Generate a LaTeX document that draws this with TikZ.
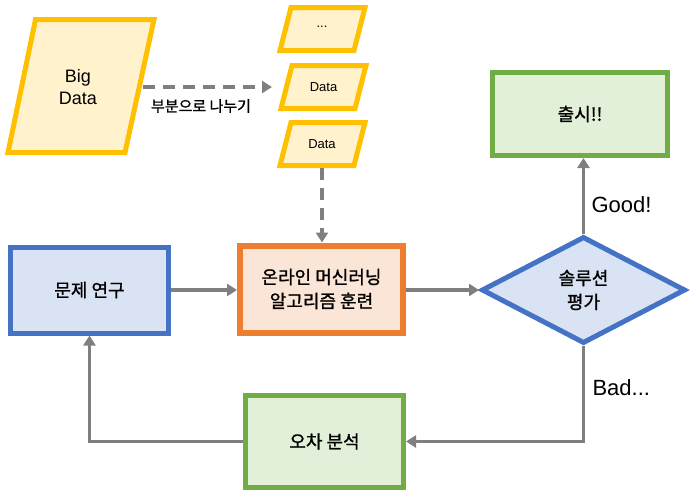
\documentclass[tikz,border=0pt]{standalone}
\usepackage{fontspec}
\setmainfont{Liberation Sans}
\newfontfamily\kr[FakeBold=1.2]{Noto Sans CJK KR}
\usetikzlibrary{arrows.meta,shapes.geometric}
\definecolor{ybord}{HTML}{FFC000}
\definecolor{yfill}{HTML}{FFF2CC}
\definecolor{bbord}{HTML}{4472C4}
\definecolor{bfill}{HTML}{DAE3F3}
\definecolor{obord}{HTML}{ED7D31}
\definecolor{ofill}{HTML}{FBE5D6}
\definecolor{gbord}{HTML}{70AD47}
\definecolor{gfill}{HTML}{E2F0D9}
\definecolor{arrgray}{HTML}{7F7F7F}
\tikzset{
  krtext/.style={font=\kr\fontsize{18}{24}\selectfont, align=center, text=black},
  boxnode/.style={krtext, draw, line width=5pt, rectangle, inner sep=0pt},
  databox/.style={draw=ybord, fill=yfill, line width=5pt, line join=miter},
  arr/.style={draw=arrgray, line width=3.5pt, -{Triangle[length=10pt,width=12pt]}},
  dasharr/.style={arr, dash pattern=on 12pt off 8pt},
  lbl/.style={font=\fontsize{22}{26}\selectfont, text=black, anchor=west}
}
\begin{document}
\begin{tikzpicture}[x=1pt,y=-1pt]
\useasboundingbox (0,0) rectangle (697,501);
% Big Data parallelogram
\draw[databox] (35.5,19.5) -- (154,19.5) -- (125,152.5) -- (8,152.5) -- cycle;
\node[font=\fontsize{18}{22}\selectfont, align=center, text=black] (bigdata) at (78,87) {Big\\Data};
\coordinate (bdright) at (143,87);
% small data boxes
\draw[databox] (291,7.5) -- (365,7.5) -- (354,50.5) -- (280,50.5) -- cycle;
\node[font=\fontsize{13}{16}\selectfont, text=black] (dots) at (322,27) {...};
\draw[databox] (292,65.5) -- (366,65.5) -- (355,108.5) -- (281,108.5) -- cycle;
\node[font=\fontsize{13}{16}\selectfont, text=black] (data1) at (323.5,87) {Data};
\draw[databox] (291,122.5) -- (365,122.5) -- (354,165.5) -- (280,165.5) -- cycle;
\node[font=\fontsize{13}{16}\selectfont, text=black] (data2) at (322,144) {Data};
\coordinate (d2bottom) at (322,168);
\coordinate (splitend) at (272,87);
\node[krtext, font=\kr\fontsize{15}{17}\selectfont] (splitlbl) at (201,106) {부분으로 나누기};
% main boxes
\node[boxnode, draw=bbord, fill=bfill, minimum width=158pt, minimum height=86pt] (study) at (89.5,290) {문제 연구};
\node[boxnode, draw=obord, fill=ofill, line width=6pt, minimum width=163pt, minimum height=87pt] (train) at (321.5,289) {온라인 머신러닝\\알고리즘 훈련};
\node[krtext, draw=bbord, fill=bfill, line width=5pt, diamond, aspect=1.9, inner sep=0pt, minimum width=204pt, minimum height=107pt] (eval) at (583.5,290) {솔루션\\평가};
\node[boxnode, draw=gbord, fill=gfill, minimum width=175pt, minimum height=83pt] (release) at (580,114) {출시!!};
\node[boxnode, draw=gbord, fill=gfill, minimum width=158pt, minimum height=92pt] (err) at (324.5,441.5) {오차 분석};
% labels
\node[lbl] (good) at (588,205) {Good!};
\node[lbl] (bad) at (589,388) {Bad...};
% connectors
\draw[dasharr] (bdright) -- (splitend);
\draw[dasharr] (d2bottom) -- (d2bottom |- train.north);
\draw[arr] (study.east) -- (study.east -| train.west);
\draw[arr] (train.east |- eval.west) -- (eval.west);
\draw[arr] (eval.north) -- (eval.north |- release.south);
\draw[arr] (eval.south) |- (err.east);
\draw[arr] (err.west) -| (study.south);
\end{tikzpicture}
\end{document}
